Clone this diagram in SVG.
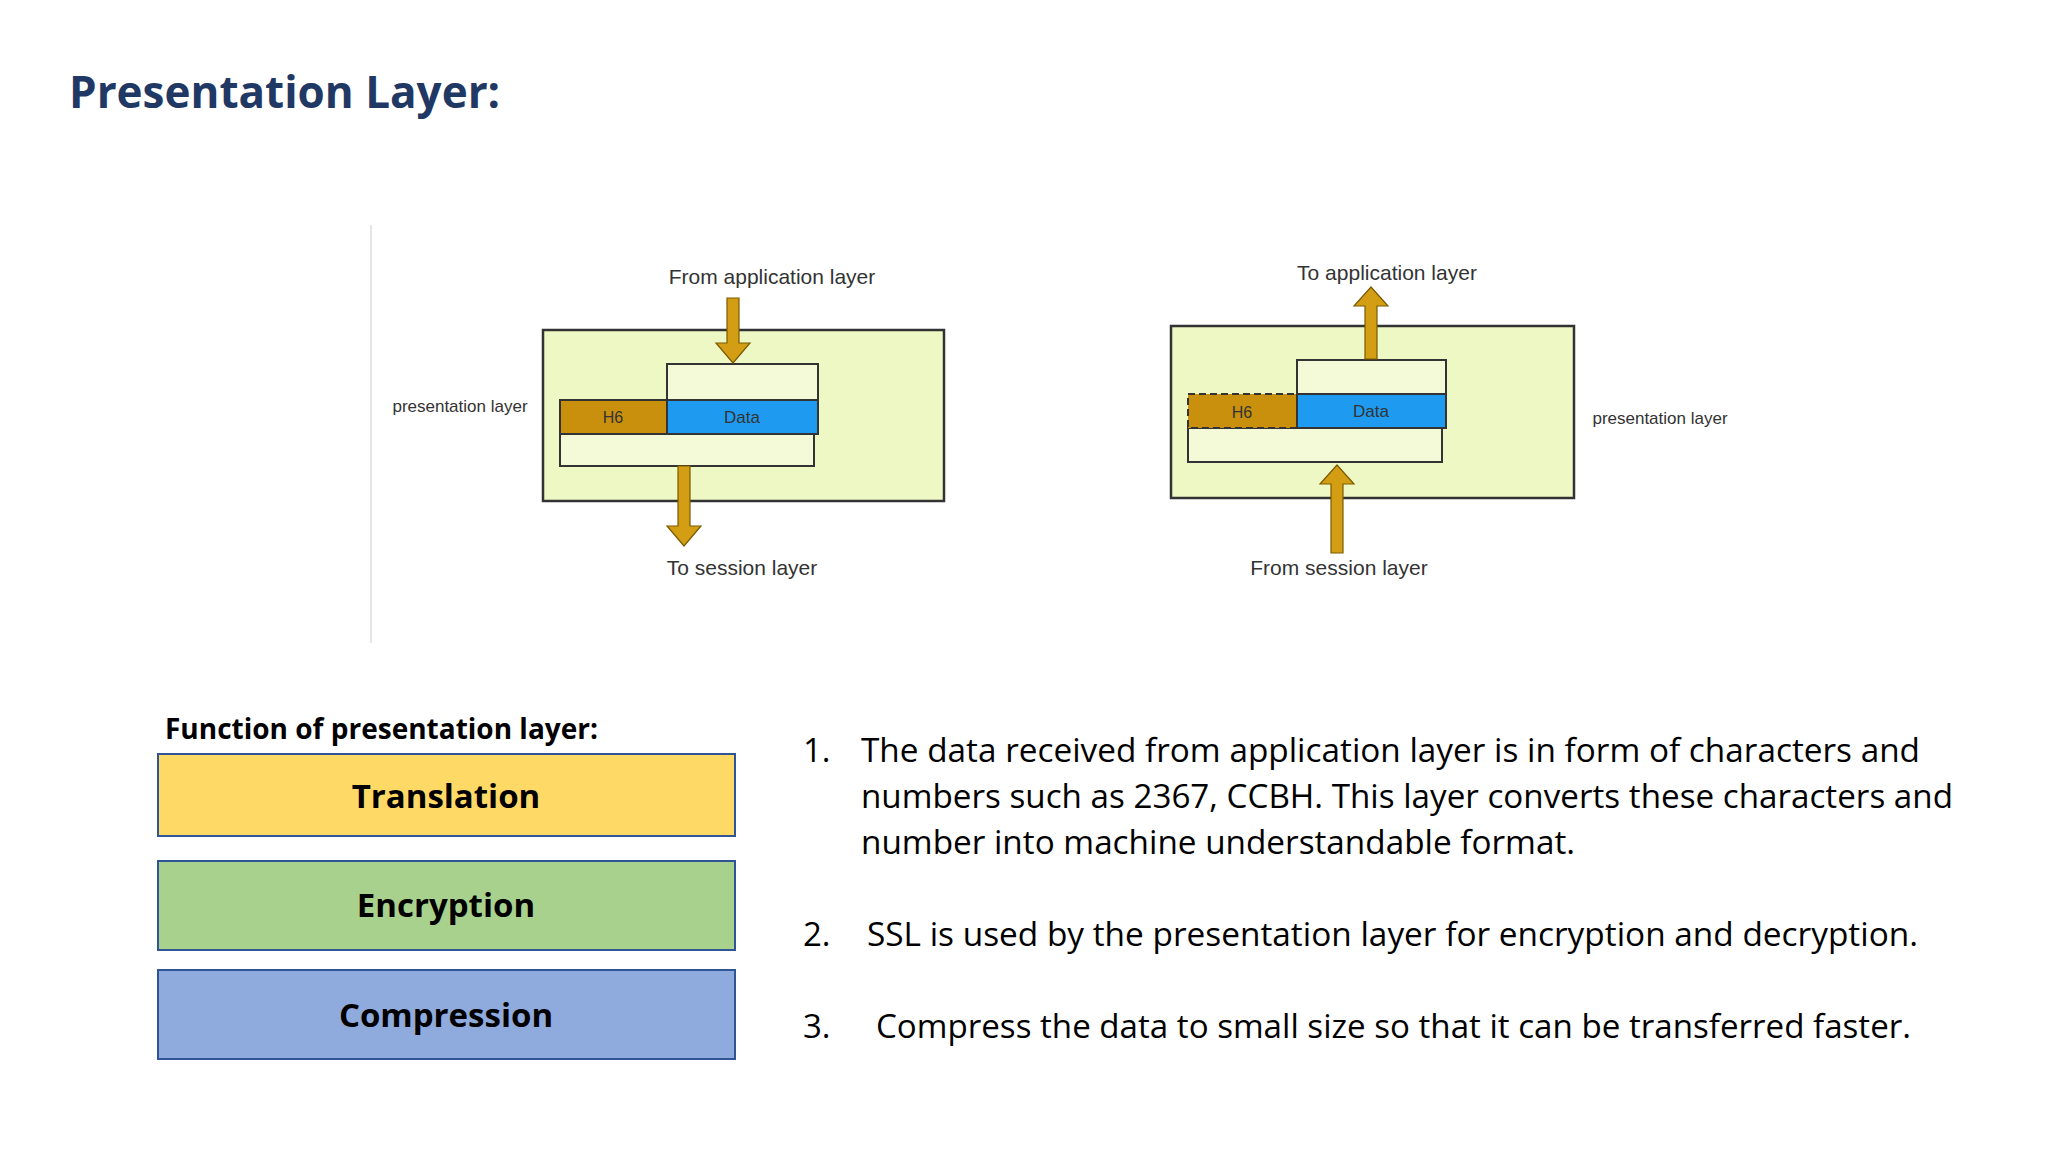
<svg xmlns="http://www.w3.org/2000/svg" width="2048" height="1152" viewBox="0 0 2048 1152">
<style>
.t{font-family:"Open Sans","Liberation Sans",sans-serif;fill:#000}
.s{font-family:"Liberation Sans",Arial,sans-serif;fill:#333}
.outer{fill:#EEF8C4;stroke:#333;stroke-width:2.5}
.inner{fill:#F4FAD7;stroke:#333;stroke-width:2}
.h6{fill:#C8900C;stroke:#333;stroke-width:2}
.data{fill:#1E9BF0;stroke:#333;stroke-width:2}
.arr{fill:#D39E14;stroke:#7A5A00;stroke-width:1.2}
.fbox{stroke:#2F5597;stroke-width:2}
.fl{font-family:"Open Sans","Liberation Sans",sans-serif;font-weight:bold;font-size:33px;text-anchor:middle;fill:#000}
</style>
<rect width="2048" height="1152" fill="#fff"/>
<text x="69" y="108" font-family="Open Sans, Liberation Sans, sans-serif" font-weight="bold" font-size="44" fill="#1F3864">Presentation Layer:</text>
<line x1="371" y1="225" x2="371" y2="643" stroke="#ddd" stroke-width="1.5"/>
<g id="left-diagram">
<rect class="outer" x="543" y="330" width="401" height="171"/>
<rect class="inner" x="667" y="364" width="151" height="36"/>
<rect class="inner" x="560" y="434" width="254" height="32"/>
<rect class="h6" x="560" y="400" width="107" height="34"/>
<rect class="data" x="667" y="400" width="151" height="34"/>
<text class="s" x="613" y="423" font-size="16" text-anchor="middle" fill="#5a3b00">H6</text>
<text class="s" x="742" y="423" font-size="17" text-anchor="middle" fill="#0b3f8f">Data</text>
<text class="s" x="772" y="284" font-size="21" text-anchor="middle">From application layer</text>
<text class="s" x="742" y="575" font-size="21" text-anchor="middle">To session layer</text>
<text class="s" x="460" y="412" font-size="17" text-anchor="middle">presentation layer</text>
</g>
<g id="right-diagram">
<rect class="outer" x="1171" y="326" width="403" height="172"/>
<rect class="inner" x="1297" y="360" width="149" height="34"/>
<rect class="inner" x="1188" y="428" width="254" height="34"/>
<rect class="h6" x="1188" y="394" width="109" height="34" stroke-dasharray="7 4" stroke-width="2.5"/>
<rect class="data" x="1297" y="394" width="149" height="34"/>
<text class="s" x="1242" y="418" font-size="16" text-anchor="middle" fill="#5a3b00">H6</text>
<text class="s" x="1371" y="417" font-size="17" text-anchor="middle" fill="#0b3f8f">Data</text>
<text class="s" x="1387" y="280" font-size="21" text-anchor="middle">To application layer</text>
<text class="s" x="1339" y="575" font-size="21" text-anchor="middle">From session layer</text>
<text class="s" x="1660" y="424" font-size="17" text-anchor="middle">presentation layer</text>
</g>
<g id="connectors">
<polygon class="arr" points="727,298 739,298 739,343 750,343 733,363 716,343 727,343"/>
<polygon class="arr" points="678,466 690,466 690,526 701,526 684,546 667,526 678,526"/>
<polygon class="arr" points="1365,359 1377,359 1377,306 1388,306 1371,287 1354,306 1365,306"/>
<polygon class="arr" points="1331,553 1343,553 1343,484 1354,484 1337,465 1320,484 1331,484"/>
</g>
<text x="165" y="739" font-family="Open Sans, Liberation Sans, sans-serif" font-weight="bold" font-size="28" fill="#000">Function of presentation layer:</text>
<g id="translation"><rect class="fbox" x="158" y="754" width="577" height="82" fill="#FFD966"/><text class="fl" x="446" y="808">Translation</text></g>
<g id="encryption"><rect class="fbox" x="158" y="861" width="577" height="89" fill="#A9D18E"/><text class="fl" x="446" y="917">Encryption</text></g>
<g id="compression"><rect class="fbox" x="158" y="970" width="577" height="89" fill="#8FAADC"/><text class="fl" x="446" y="1027">Compression</text></g>
<g id="list" class="t" font-size="33">
<text x="803" y="762">1.</text>
<text x="861" y="762" textLength="1059" lengthAdjust="spacingAndGlyphs">The data received from application layer is in form of characters and</text>
<text x="861" y="808" textLength="1092" lengthAdjust="spacingAndGlyphs">numbers such as 2367, CCBH. This layer converts these characters and</text>
<text x="861" y="854" textLength="714" lengthAdjust="spacingAndGlyphs">number into machine understandable format.</text>
<text x="803" y="946">2.</text>
<text x="867" y="946" textLength="1051" lengthAdjust="spacingAndGlyphs">SSL is used by the presentation layer for encryption and decryption.</text>
<text x="803" y="1038">3.</text>
<text x="876" y="1038" textLength="1035" lengthAdjust="spacingAndGlyphs">Compress the data to small size so that it can be transferred faster.</text>
</g>
</svg>
